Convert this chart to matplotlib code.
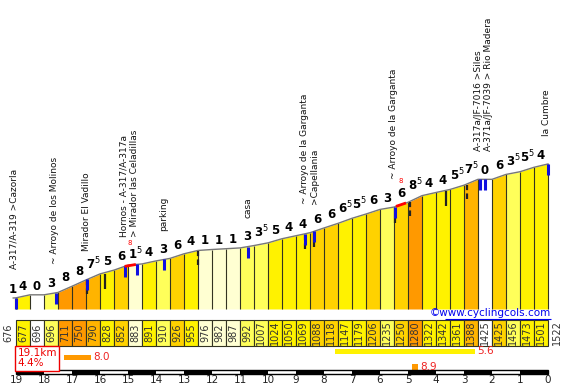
import numpy as np
import matplotlib.pyplot as plt

# profile points: distance to the top (km) and altitude (m)
km = [19.1, 19.0, 18.5, 18.0, 17.5, 17.0, 16.5, 16.0, 15.5, 15.0, 14.5, 14.0, 13.5, 13.0,
      12.5, 12.0, 11.5, 11.0, 10.5, 10.0, 9.5, 9.0, 8.5, 8.0, 7.5, 7.0, 6.5, 6.0, 5.5, 5.0,
      4.5, 4.0, 3.5, 3.0, 2.5, 2.0, 1.5, 1.0, 0.5, 0.0]
elev = [676, 677, 696, 696, 711, 750, 790, 828, 852, 883, 891, 910, 926, 955, 976, 982,
        987, 992, 1007, 1024, 1050, 1069, 1088, 1118, 1147, 1179, 1206, 1235, 1250, 1280,
        1322, 1342, 1361, 1388, 1425, 1425, 1456, 1473, 1501, 1522]
# gradient of each stretch (%)
grad = [1, 4, 0, 3, 8, 8, 7.5, 5, 6, 1.5, 4, 3, 6, 4, 1, 1, 1, 3, 3.5, 5, 4, 4, 6, 6,
        6.5, 5.5, 6, 3, 6, 8.5, 4, 4, 5.5, 7.5, 0, 6, 3.5, 5.5, 4]

# points of interest (km, name)
poi_km = [19.07, 17.61, 16.5, 14.96, 13.71, 10.71, 8.52, 5.5, 2.32, 0.04]
poi_txt = ["A-317/A-319 >Cazorla",
           "~ Arroyo de los Molinos",
           "Mirador El Vadillo",
           "Hornos - A-317/A-317a\n> Mirador las Celadillas",
           "parking",
           "casa",
           "~ Arroyo de la Garganta\n>Capellania",
           "~ Arroyo de la Garganta",
           "A-317a/JF-7016 >Siles\nA-371a/JF-7039 > Rio Madera",
           "la Cumbre"]

# little road marks
blue_marks = [19.0, 17.57, 16.46, 15.1, 14.68, 13.71, 10.71, 8.68, 8.36, 5.46, 2.43, 2.25, 0.0]
black_marks = [15.82, 8.36, 5.46, 3.64]
dash_marks = [16.46, 12.5, 8.68, 4.93, 2.89]

# short steep bits (km from, km to, max %)
steep_from = [15.12, 5.43]
steep_to = [14.72, 5.07]
steep_val = ["8", "8"]

# steepest stretches (km from, km to, %)
best_from = [17.29, 7.61, 4.86]
best_to = [16.32, 2.61, 4.64]
best_val = [8.0, 5.6, 8.9]

pal = {0: 'white', 1: '#FFFFD2', 1.5: '#FFFFD2', 3: '#FFFF5A', 3.5: '#FFFF5A',
       4: '#FFF200', 5: '#FFF200', 5.5: '#FFF200', 6.5: '#FFF200', 6: '#FFD200',
       7.5: '#FFB400', 8: '#FF9900', 8.5: '#FF9900'}


def gcol(g):
    if g < 0.5:
        return 'white'
    if g < 2.5:
        return '#FFFFD2'
    if g < 4:
        return '#FFFF5A'
    if g < 6:
        return '#FFF200'
    if g < 7:
        return '#FFD200'
    if g < 8:
        return '#FFB400'
    return '#FF9900'


W, H = 564, 387


def px2km(p):
    return 19 - (p - 16) / 28.0


fig = plt.figure(figsize=(W / 100, H / 100), dpi=100)
ax = fig.add_axes([0, 0, 1, 1])
ax.set_xlim(px2km(0), px2km(W))
ytop, ybot = 2557.0, 114.1
ax.set_ylim(ybot, ytop)
mpp = (ytop - ybot) / H   # metres per pixel
base = 676 - 11 * mpp

# coloured stretches
for i in range(len(grad)):
    ax.fill_between([km[i], km[i + 1]], base, [elev[i], elev[i + 1]],
                    color=pal[grad[i]], lw=0, zorder=1)
ax.vlines(km[1:], base, elev[1:], color='#333322', lw=0.8, zorder=2)
ax.plot(km, elev, color='#777777', lw=1, zorder=3)

# gradient numbers
for i, g in enumerate(grad):
    mid = (km[i] + km[i + 1]) / 2
    if i == 0:
        mid += 0.08
    top = max(elev[i], elev[i + 1])
    if g % 1:
        s = r'$\mathbf{%d}^{\mathrm{5}}$' % int(g)
    else:
        s = '%d' % g
    ax.annotate(s, (mid, top), xytext=(0, 1.5), textcoords='offset points',
                ha='center', va='bottom', fontsize=8.5, fontweight='bold', color='black')

# marks along the road
for k in black_marks:
    e = np.interp(k, km[::-1], elev[::-1])
    ax.vlines(k, e - 16 * mpp, e - 1 * mpp, color='#222222', lw=1.6, zorder=4)
for k in dash_marks:
    e = np.interp(k, km[::-1], elev[::-1])
    ax.vlines(k, e - 15 * mpp, e - 1 * mpp, color='#222222', lw=1.6,
              linestyles=(0, (2.5, 1.5)), zorder=4)
for k in blue_marks:
    e = np.interp(k, km[::-1], elev[::-1])
    ax.vlines(k, e - 11 * mpp, e, color='#1010E0', lw=2.2, zorder=5)

for a, b, v in zip(steep_from, steep_to, steep_val):
    xs = np.array([a, b])
    ys = np.interp(xs, km[::-1], elev[::-1])
    ax.plot(xs, ys, color='red', lw=2, zorder=5, solid_capstyle='butt')
    ax.annotate(v, ((a + b) / 2, ys.max()), xytext=(0, 15.5), textcoords='offset points',
                ha='center', va='center', fontsize=5, color='red')

# place names
for k, t in zip(poi_km, poi_txt):
    e = np.interp(k, km[::-1], elev[::-1])
    ax.annotate(t, (k, e), xytext=(0, 20.5), textcoords='offset points', rotation=90,
                ha='center', va='bottom', fontsize=6.5, color='#111111',
                multialignment='left', linespacing=1.15)
ax.set_axis_off()

# lower band in pixel rows
axb = ax.twinx()
axb.set_ylim(H, 0)
for i in range(1, len(grad)):
    mid = (km[i] + km[i + 1]) / 2
    axb.bar(mid, 26, bottom=320, width=abs(km[i] - km[i + 1]), color=pal[grad[i]],
            edgecolor='#333322', lw=0.8)
    axb.text(mid, 333, str(elev[i]), rotation=90, ha='center', va='center',
             fontsize=7, color='#333333')
axb.text(px2km(8), 333, str(elev[0]), rotation=90, ha='center', va='center',
         fontsize=7, color='#333333')
axb.text(px2km(557), 333, str(elev[-1]), rotation=90, ha='center', va='center',
         fontsize=7, color='#333333')

axb.text(px2km(551), 313.5, '©www.cyclingcols.com', ha='right', va='center',
         fontsize=7.5, color='#0000EE')
axb.hlines(318.5, px2km(445), px2km(551), color='#0000EE', lw=0.8)

dist = km[0] - km[-1]
avg = (elev[-1] - elev[0]) / (dist * 1000) * 100
axb.text(px2km(17.5), 358.5, '%.1fkm\n%.1f%%' % (dist, avg), ha='left', va='center',
         fontsize=7.5, color='#EE0000', linespacing=1.0,
         bbox=dict(facecolor='white', edgecolor='#EE0000', lw=1, pad=0.2, boxstyle='square'))

rows = [357.5, 351.5, 366.5]
hts = [5, 5, 6]
for a, b, v, r, h in zip(best_from, best_to, best_val, rows, hts):
    axb.fill_between([a, b], r - h / 2, r + h / 2, color=gcol(v), lw=0)
    axb.text(b - 0.08, r, '%.1f' % v, ha='left', va='center', fontsize=7.5, color='#EE2222')

# km scale
axb.add_patch(plt.Rectangle((19, 370), -19, 4, fill=False, edgecolor='black', lw=1))
for k in range(19, 0, -1):
    if k % 2:
        axb.fill_between([k, k - 1], 370, 374, color='black', lw=0)
    axb.text(k, 380, str(k), ha='center', va='center', fontsize=7.5, color='#222222')
axb.text(0, 380, '0', ha='center', va='center', fontsize=7.5, color='#222222')
axb.set_axis_off()

fig.savefig('out.png', dpi=100)
